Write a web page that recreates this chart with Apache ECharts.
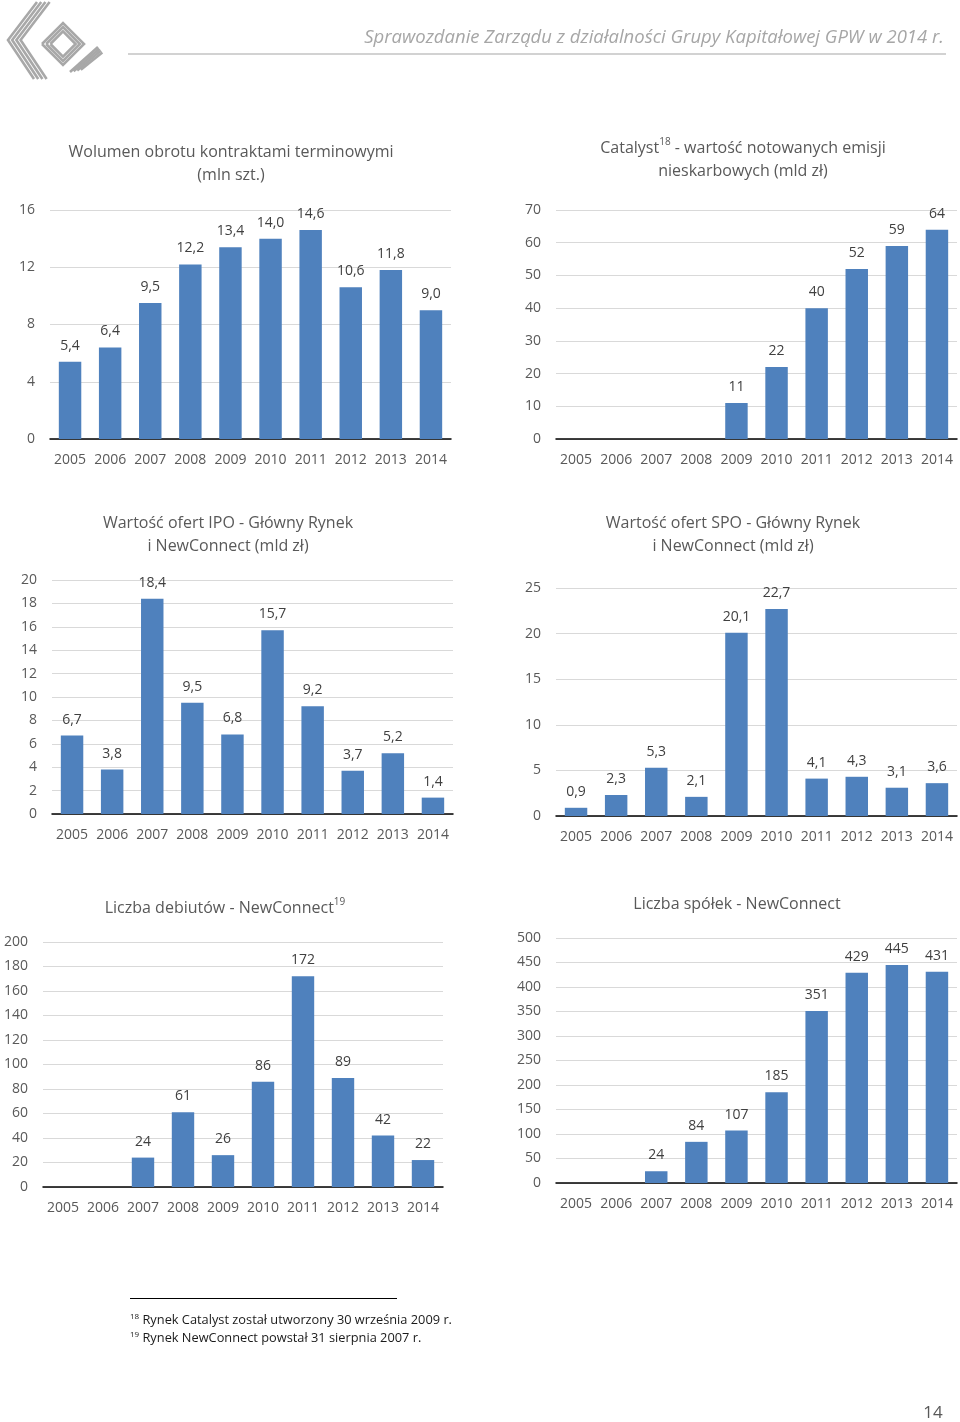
<!DOCTYPE html>
<html>
<head>
<meta charset="utf-8">
<script src="https://cdn.jsdelivr.net/npm/echarts@6/dist/echarts.min.js"></script>
<style>
html,body{margin:0;padding:0;background:#fff;}
#main{width:960px;height:1422px;}
</style>
</head>
<body>
<div id="main"></div>
<script>
// ---- data ----
const years = ['2005','2006','2007','2008','2009','2010','2011','2012','2013','2014'];
const volumeValues = [5.4, 6.4, 9.5, 12.2, 13.4, 14.0, 14.6, 10.6, 11.8, 9.0];
const catalystValues = [null, null, null, null, 11, 22, 40, 52, 59, 64];
const ipoValues = [6.7, 3.8, 18.4, 9.5, 6.8, 15.7, 9.2, 3.7, 5.2, 1.4];
const spoValues = [0.9, 2.3, 5.3, 2.1, 20.1, 22.7, 4.1, 4.3, 3.1, 3.6];
const debutValues = [null, null, 24, 61, 26, 86, 172, 89, 42, 22];
const companyValues = [null, null, 24, 84, 107, 185, 351, 429, 445, 431];

const volumeTicks = {min: 0, max: 16, interval: 4};
const catalystTicks = {min: 0, max: 70, interval: 10};
const ipoTicks = {min: 0, max: 20, interval: 2};
const spoTicks = {min: 0, max: 25, interval: 5};
const debutTicks = {min: 0, max: 200, interval: 20};
const companyTicks = {min: 0, max: 500, interval: 50};

const titles = [
  'Wolumen obrotu kontraktami terminowymi\n(mln szt.)',
  'Catalyst{sup|18} - wartość notowanych emisji\nnieskarbowych (mld zł)',
  'Wartość ofert IPO - Główny Rynek\ni NewConnect (mld zł)',
  'Wartość ofert SPO - Główny Rynek\ni NewConnect (mld zł)',
  'Liczba debiutów - NewConnect{sup|19}',
  'Liczba spółek - NewConnect'
];
const headerText = 'Sprawozdanie Zarządu z działalności Grupy Kapitałowej GPW w 2014 r.';
const footnotes = [
  '{sup|18} Rynek Catalyst został utworzony 30 września 2009 r.',
  '{sup|19} Rynek NewConnect powstał 31 sierpnia 2007 r.'
];
const pageNumber = '14';

// ---- layout ----
const FONT = '"Open Sans", "Noto Sans", sans-serif';
const BAR = '#4f81bd';
const AXIS_TXT = '#595959';
const LABEL_TXT = '#404040';

const panels = [
  {values: volumeValues, ticks: volumeTicks, dec: 1, grid: {left: 50, top: 210, width: 401, height: 229}, title: [231, 152]},
  {values: catalystValues, ticks: catalystTicks, dec: 0, grid: {left: 556, top: 210, width: 401, height: 229}, title: [743, 148]},
  {values: ipoValues, ticks: ipoTicks, dec: 1, grid: {left: 52, top: 580, width: 401, height: 234}, title: [228, 523]},
  {values: spoValues, ticks: spoTicks, dec: 1, grid: {left: 556, top: 588, width: 401, height: 228}, title: [733, 523]},
  {values: debutValues, ticks: debutTicks, dec: 0, grid: {left: 43, top: 942, width: 400, height: 245}, title: [225, 908]},
  {values: companyValues, ticks: companyTicks, dec: 0, grid: {left: 556, top: 938, width: 401, height: 245}, title: [737, 904]}
];

const grid = [], xAxis = [], yAxis = [], series = [], graphic = [];

panels.forEach((p, i) => {
  grid.push(Object.assign({containLabel: false, outerBoundsMode: 'none'}, p.grid));
  xAxis.push({
    type: 'category', gridIndex: i, data: years,
    axisLine: {show: true, lineStyle: {color: '#000', width: 1.5}},
    axisTick: {show: false},
    axisLabel: {color: AXIS_TXT, fontSize: 14, fontFamily: FONT, margin: 14, interval: 0}
  });
  yAxis.push({
    type: 'value', gridIndex: i,
    min: p.ticks.min, max: p.ticks.max, interval: p.ticks.interval,
    axisLine: {show: false}, axisTick: {show: false},
    axisLabel: {color: AXIS_TXT, fontSize: 14, fontFamily: FONT, margin: 15},
    splitLine: {lineStyle: {color: '#d9d9d9', width: 1}}
  });
  series.push({
    type: 'bar', xAxisIndex: i, yAxisIndex: i, data: p.values,
    barWidth: '56%',
    itemStyle: {color: BAR},
    label: {
      show: true, position: 'top', distance: 9,
      color: LABEL_TXT, fontSize: 14, fontFamily: FONT,
      formatter: (d) => d.value == null ? '' : (p.dec ? d.value.toFixed(p.dec).replace('.', ',') : String(d.value))
    },
    silent: true
  });
  graphic.push({
    type: 'text', x: p.title[0], y: p.title[1] - 11,
    style: {
      text: titles[i], fill: AXIS_TXT, font: '16px ' + FONT,
      textAlign: 'center', textVerticalAlign: 'top', lineHeight: 23,
      rich: {sup: {fontSize: 10, fontFamily: FONT, fill: AXIS_TXT, verticalAlign: 'top', lineHeight: 12, padding: [0, 0, 8, 0]}}
    }
  });
});

// header
graphic.push({
  type: 'text', x: 944, y: 38,
  style: {text: headerText, fill: '#a6a6a6', font: 'italic 18.5px ' + FONT, textAlign: 'right', textVerticalAlign: 'middle'}
});
graphic.push({type: 'line', shape: {x1: 128, y1: 54, x2: 946, y2: 54}, style: {stroke: '#a6a6a6', lineWidth: 1.2}});

// logo (GPW mark, approximated by stroked bands)
const logoStroke = {stroke: '#a8a8a8', lineWidth: 2.6, fill: null};
for (let k = 0; k < 4; k++) {
  const o = k * 4.2;
  graphic.push({type: 'polyline', shape: {points: [[37 + o, 2], [8 + o, 40], [34 + o, 79]]}, style: logoStroke});
}
for (let k = 0; k < 3; k++) {
  const r = 21 - k * 4.2;
  const cx = 63, cy = 44;
  graphic.push({type: 'polyline', shape: {points: [[cx - r, cy], [cx, cy - r], [cx + r, cy], [cx, cy + r], [cx - r, cy]]}, style: logoStroke});
}
for (let k = 0; k < 4; k++) {
  const o = k * 3.6;
  graphic.push({type: 'polyline', shape: {points: [[70 + o, 72 - o * 0.2], [98 + o * 0.4, 47 + o * 0.5]]}, style: logoStroke});
}

// footnotes
graphic.push({type: 'line', shape: {x1: 130, y1: 1298.5, x2: 397, y2: 1298.5}, style: {stroke: '#000', lineWidth: 1}});
footnotes.forEach((t, j) => {
  graphic.push({
    type: 'text', x: 130, y: 1320 + j * 18,
    style: {
      text: t, fill: '#1a1a1a', font: '12.8px ' + FONT, textAlign: 'left', textVerticalAlign: 'middle',
      rich: {sup: {fontSize: 8, fontFamily: FONT, fill: '#1a1a1a', padding: [0, 0, 6, 0]}}
    }
  });
});

// page number
graphic.push({
  type: 'text', x: 933, y: 1413,
  style: {text: pageNumber, fill: '#595959', font: '17px ' + FONT, textAlign: 'center', textVerticalAlign: 'middle'}
});

const chart = echarts.init(document.getElementById('main'), null, {renderer: 'canvas'});
chart.setOption({
  backgroundColor: '#ffffff',
  animation: false,
  textStyle: {fontFamily: FONT},
  grid, xAxis, yAxis, series, graphic
});
</script>
</body>
</html>
